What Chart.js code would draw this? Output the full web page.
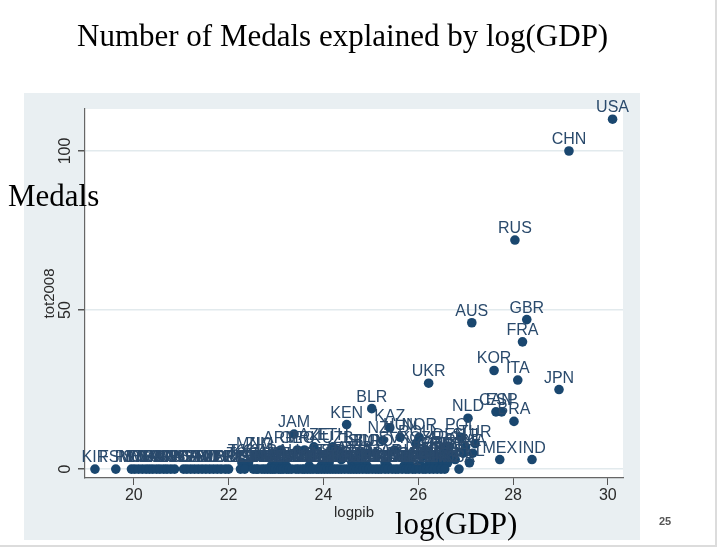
<!DOCTYPE html>
<html>
<head>
<meta charset="utf-8">
<script src="https://cdn.jsdelivr.net/npm/chart.js@4.4.1/dist/chart.umd.min.js"></script>
<style>
  html, body { margin: 0; padding: 0; background: #fff; overflow: hidden; }
  canvas { display: block; }
</style>
</head>
<body>
<canvas id="medals" width="720" height="549"></canvas>
<script>
// Beijing 2008: total medals vs log(GDP), one entry per country
var countries = [
  "USA","CHN","RUS","GBR","AUS","FRA","KOR","ITA","UKR","JPN",
  "BLR","CAN","ESP","NLD","BRA","KEN","KAZ","JAM","HUN","NOR",
  "POL","NZL","TUR","ROU","MEX","IND",
  "ARM","GEO","AZE","ETH","MNG","ZIM","TJK","KGZ","TOG","MDA",
  "MRI","BAH","AFG","PRK","ISL","PAN","EST","TRI","CMR","UZB",
  "LAT","DOM","TUN","LTU","SLO","ECU","SUD","BUL","SRB","CRO",
  "MAR","VIE","SVK","EGY","ALG","CHI","ISR","SIN","NGR","CZE",
  "MAS","COL","FIN","THA","RSA","POR","IRL","ARG","VEN","IRN",
  "GRE","DEN","TPE","AUT","SWE","SUI","BEL","INA",
  "KIR","FSM","PLW","MHL","STP","TGA","DMA","COM","VAN","SAM",
  "SKN","VIN","GRN","SOL","GBS","LCA","ANT","SEY","CPV","GAM",
  "BHU","DJI","BIZ","MDV","CAF","LBR","ERI","BDI","SLE","LES",
  "GUY","SUR","SWZ","FIJ","BAR","MNE","RWA","MAW","NIG","MLI",
  "BUR","BEN","MAD","HAI","LAO","CAM","PNG","MOZ","ZAM","UGA",
  "MKD","ALB","NEP","SEN","GAB","CGO","COD","BOT","NAM","HON",
  "NCA","BIH","TKM","BRU","MLT","CYP","PAR","BOL","TAN","GHA",
  "CIV","JOR","ESA","CRC","URU","LIB","YEM","GUA","SRI","OMA",
  "LUX","SYR","IRQ","ANG","LBA","BAN","QAT","KUW","PER","PAK",
  "PHI","HKG","UAE","KSA"
];

var logpib = [
  30.10,29.18,28.04,28.29,27.13,28.20,27.60,28.10,26.22,28.97,
  25.02,27.64,27.76,27.05,28.02,24.49,25.40,23.38,25.62,26.02,
  26.90,25.25,27.20,25.95,27.72,28.40,
  23.10,23.45,23.80,24.20,22.55,22.65,22.28,22.42,22.32,22.90,
  23.00,23.15,23.22,23.60,23.70,23.95,24.05,24.12,24.00,24.30,
  24.38,24.60,24.65,24.75,24.85,24.80,24.92,24.95,24.70,25.10,
  25.30,25.35,25.50,25.70,25.80,25.85,26.00,26.06,26.10,26.15,
  26.20,26.28,26.32,26.38,26.42,26.36,26.48,26.55,26.52,26.62,
  26.60,26.66,26.72,26.78,26.95,27.00,27.08,27.15,
  19.18,19.62,19.95,20.02,20.10,20.18,20.26,20.33,20.40,20.48,
  20.55,20.63,20.70,20.78,20.86,21.05,21.12,21.20,21.28,21.36,
  21.44,21.52,21.60,21.68,21.76,21.84,21.93,22.00,22.25,22.34,
  22.52,22.58,22.62,22.70,22.76,22.82,22.88,22.93,22.98,23.05,
  23.10,23.15,23.22,23.27,23.33,23.42,23.48,23.55,23.60,23.66,
  23.72,23.78,23.85,23.90,23.96,24.02,24.08,24.14,24.20,24.26,
  24.32,24.38,24.45,24.52,24.58,24.64,24.70,24.76,24.83,24.90,
  24.96,25.03,25.10,25.16,25.22,25.30,25.37,25.45,25.52,25.58,
  25.66,25.74,25.80,25.88,25.94,26.02,26.10,26.16,26.24,26.32,
  26.40,26.48,26.56,26.86
];

var tot2008 = [
  110,100,72,47,46,40,31,28,27,25,
  19,18,18,16,15,14,13,11,10,10,
  10,9,8,8,3,3,
  6,6,7,7,4,4,2,2,1,1,
  1,2,1,6,1,1,2,2,1,6,
  3,2,1,5,5,1,1,5,3,5,
  2,1,6,1,2,1,1,1,4,6,
  1,2,4,4,1,2,3,6,1,2,
  4,7,4,3,5,7,2,5,
  0,0,0,0,0,0,0,0,0,0,
  0,0,0,0,0,0,0,0,0,0,
  0,0,0,0,0,0,0,0,0,0,
  0,0,0,0,0,0,0,0,0,0,
  0,0,0,0,0,0,0,0,0,0,
  0,0,0,0,0,0,0,0,0,0,
  0,0,0,0,0,0,0,0,0,0,
  0,0,0,0,0,0,0,0,0,0,
  0,0,0,0,0,0,0,0,0,0,
  0,0,0,0
];

var xTicks = [20, 22, 24, 26, 28, 30];
var yTicks = [0, 50, 100];

var navy = "#1a476f";
var sans = '"Liberation Sans", Arial, sans-serif';
var serif = '"Liberation Serif", "Times New Roman", serif';

var points = logpib.map(function (x, i) {
  return { x: x, y: tot2008[i] };
});

// slide background, Stata graph region and white plot region
var slideBackground = {
  id: "slideBackground",
  beforeDraw: function (chart) {
    var ctx = chart.ctx;
    var a = chart.chartArea;
    ctx.save();
    ctx.fillStyle = "#ffffff";
    ctx.fillRect(0, 0, chart.width, chart.height);
    ctx.fillStyle = "#e9eff2";
    ctx.fillRect(24, 93, 616, 447);
    ctx.fillStyle = "#ffffff";
    ctx.fillRect(a.left, a.top, a.right - a.left, a.bottom - a.top);
    ctx.strokeStyle = "#dcdcdc";
    ctx.lineWidth = 2;
    ctx.beginPath();
    ctx.moveTo(716, 0);
    ctx.lineTo(716, 546);
    ctx.lineTo(0, 546);
    ctx.stroke();
    ctx.restore();
  }
};

// country codes above each marker
var pointLabels = {
  id: "pointLabels",
  afterDatasetsDraw: function (chart) {
    var ctx = chart.ctx;
    var meta = chart.getDatasetMeta(0);
    ctx.save();
    ctx.font = "16px " + sans;
    ctx.fillStyle = "#2a4a6c";
    ctx.textAlign = "center";
    ctx.textBaseline = "alphabetic";
    meta.data.forEach(function (el, i) {
      ctx.fillText(countries[i], el.x, el.y - 7);
    });
    ctx.restore();
  }
};

// tick labels, axis titles and the slide's own text
var slideText = {
  id: "slideText",
  afterDraw: function (chart) {
    var ctx = chart.ctx;
    var a = chart.chartArea;
    var xs = chart.scales.x;
    var ys = chart.scales.y;
    ctx.save();
    ctx.fillStyle = "#2a2a2a";
    ctx.font = "16px " + sans;
    ctx.textAlign = "center";
    ctx.textBaseline = "middle";
    xTicks.forEach(function (v) {
      ctx.fillText(String(v), xs.getPixelForValue(v), a.bottom + 18);
    });
    yTicks.forEach(function (v) {
      ctx.save();
      ctx.translate(a.left - 19, ys.getPixelForValue(v));
      ctx.rotate(-Math.PI / 2);
      ctx.fillText(String(v), 0, 0);
      ctx.restore();
    });
    ctx.font = "15px " + sans;
    ctx.fillText("logpib", (a.left + a.right) / 2, a.bottom + 35);
    ctx.save();
    ctx.translate(a.left - 35, (a.top + a.bottom) / 2);
    ctx.rotate(-Math.PI / 2);
    ctx.fillText("tot2008", 0, 0);
    ctx.restore();

    ctx.fillStyle = "#000000";
    ctx.font = "31px " + serif;
    ctx.textAlign = "left";
    ctx.textBaseline = "alphabetic";
    ctx.fillText("Number of Medals explained by log(GDP)", 77, 46);
    ctx.fillText("Medals", 8, 206);
    ctx.fillText("log(GDP)", 395, 534);

    ctx.fillStyle = "#555555";
    ctx.font = "bold 11px " + sans;
    ctx.textAlign = "center";
    ctx.textBaseline = "middle";
    ctx.fillText("25", 665, 522);
    ctx.restore();
  }
};

var ctx = document.getElementById("medals").getContext("2d");
var medalsChart = new Chart(ctx, {
  type: "scatter",
  data: {
    datasets: [{
      data: points,
      backgroundColor: navy,
      borderWidth: 0,
      pointRadius: 4.8,
      pointHoverRadius: 4.8
    }]
  },
  options: {
    responsive: false,
    devicePixelRatio: 1,
    animation: false,
    events: [],
    layout: { padding: { left: 24, top: 109, right: 97, bottom: 9 } },
    plugins: { legend: { display: false }, tooltip: { enabled: false } },
    scales: {
      x: {
        type: "linear",
        min: 18.97,
        max: 30.32,
        afterBuildTicks: function (scale) {
          scale.ticks = xTicks.map(function (v) { return { value: v }; });
        },
        afterFit: function (scale) { scale.height = 62; },
        ticks: { display: false },
        grid: { drawOnChartArea: false, drawTicks: true, tickLength: 7, tickColor: "#555" },
        border: { display: true, color: "#666", width: 1.2 }
      },
      y: {
        type: "linear",
        min: -2.8,
        max: 113.2,
        afterBuildTicks: function (scale) {
          scale.ticks = yTicks.map(function (v) { return { value: v }; });
        },
        afterFit: function (scale) { scale.width = 61; },
        ticks: { display: false },
        grid: { color: "#e2eaed", lineWidth: 1.5, drawTicks: true, tickLength: 7, tickColor: "#555" },
        border: { display: true, color: "#666", width: 1.2 }
      }
    }
  },
  plugins: [slideBackground, pointLabels, slideText]
});
</script>
</body>
</html>
